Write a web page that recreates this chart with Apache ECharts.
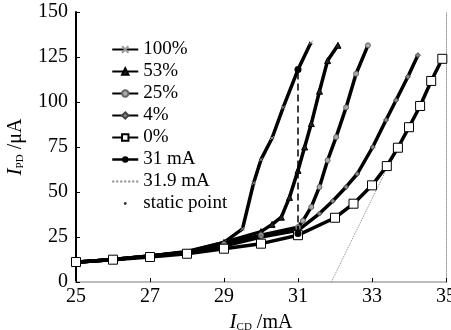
<!DOCTYPE html>
<html>
<head>
<meta charset="utf-8">
<script src="https://cdn.jsdelivr.net/npm/echarts@6/dist/echarts.min.js"></script>
<style>
  html, body { margin: 0; padding: 0; background: #fff; }
  #chart { width: 451px; height: 330px; }
</style>
</head>
<body>
<div id="chart"></div>
<script>
// data
const x100 = [25, 26, 27, 28, 29, 29.5, 29.8, 30, 30.3, 30.6, 31, 31.35];
const y100 = [11, 12.5, 14.5, 17, 22, 29.5, 55, 68, 80, 97, 118, 133];
const x53 = [25, 26, 27, 28, 29, 30, 30.3, 30.55, 30.77, 31, 31.18, 31.36, 31.58, 31.8, 32.08];
const y53 = [11, 12.5, 14.5, 16.5, 22, 28, 32, 36, 47, 62, 75, 88, 106, 123, 131.5];
const x25 = [25, 26, 27, 28, 29, 30, 31, 31.13, 31.36, 31.58, 31.8, 32.03, 32.3, 32.57, 32.89];
const y25 = [11, 12.5, 14.5, 16.5, 21, 26, 30.5, 34, 41.7, 52.8, 67.6, 80.5, 97, 115.7, 131.5];
const x4 = [25, 26, 27, 28, 29, 30, 31, 31.58, 31.94, 32.3, 32.6, 33.02, 33.38, 33.65, 33.97, 34.24];
const y4 = [11, 12.5, 14.5, 16.5, 20, 25, 28.7, 38, 45, 52.8, 60, 75, 90, 101, 114, 126];
const x0 = [25, 26, 27, 28, 29, 30, 31, 32, 32.5, 33, 33.4, 33.7, 34, 34.3, 34.6, 34.9];
const y0 = [11.1, 12.4, 13.9, 15.7, 18.5, 21.3, 26, 35.7, 43.5, 53.7, 64.4, 74.6, 86, 97.8, 111.7, 124];
const x31 = [31, 31];
const y31 = [27, 118];
const x319 = [31.9, 33.4];
const y319 = [0, 63];
const xStatic = [31, 31, 31, 31, 31];
const yStatic = [118, 62, 30.5, 28.7, 26];
const xTicks = [25, 27, 29, 31, 33, 35];
const yTicks = [0, 25, 50, 75, 100, 125, 150];

const zip = (xs, ys) => xs.map((x, i) => [x, ys[i]]);
const FONT = "'Liberation Serif', 'DejaVu Serif', serif";

const chart = echarts.init(document.getElementById("chart"), null, { renderer: "canvas" });

const curve = (name, xs, ys, symbol, size, color, border) => ({
  name: name,
  type: "line",
  data: zip(xs, ys),
  symbol: symbol,
  symbolSize: size,
  showSymbol: true,
  lineStyle: { color: "#000", width: 3.5 },
  itemStyle: { color: color, borderColor: border, borderWidth: 1 },
  z: 3
});

const nameStyle = {
  fontFamily: FONT, fontSize: 20, color: "#000",
  rich: {
    i: { fontFamily: FONT, fontStyle: "italic", fontSize: 21 },
    s: { fontFamily: FONT, fontSize: 11, verticalAlign: "bottom", padding: [10, 0, 0, 0] }
  }
};

chart.setOption({
  animation: false,
  backgroundColor: "#fff",
  grid: { left: 76, right: 5, top: 12, bottom: 48, containLabel: false, outerBoundsMode: "none" },
  legend: {
    orient: "vertical",
    left: 106,
    top: 35,
    itemWidth: 26,
    itemHeight: 8,
    itemGap: 3,
    textStyle: { fontFamily: FONT, fontSize: 19, color: "#000" },
    data: [
      "100%", "53%", "25%", "4%", "0%",
      { name: "31 mA", lineStyle: { type: "solid", width: 2.5 } },
      { name: "31.9 mA", itemStyle: { opacity: 0 } },
      { name: "static point", icon: "path://M0,0L0.01,0M100,100L100.01,100M32,50a18,18 0 1,0 36,0a18,18 0 1,0 -36,0" }
    ]
  },
  xAxis: [{
    type: "value",
    min: 25,
    max: 35,
    interval: 2,
    name: "{i|I}{s|CD} /mA",
    nameLocation: "middle",
    nameGap: 24,
    nameTextStyle: nameStyle,
    axisLine: { lineStyle: { color: "#000", width: 2 } },
    axisTick: { inside: true, length: 4, lineStyle: { color: "#000" } },
    axisLabel: { fontFamily: FONT, fontSize: 20, color: "#000", margin: 5, formatter: v => xTicks.includes(v) ? String(v) : "" },
    splitLine: { show: false }
  }, {
    type: "value", position: "top", min: 25, max: 35,
    axisLine: { show: true, lineStyle: { color: "#bbb", width: 2 } },
    axisTick: { show: false }, axisLabel: { show: false }, splitLine: { show: false }
  }],
  yAxis: [{
    type: "value",
    min: 0,
    max: 150,
    interval: 25,
    name: "{i|I}{s|PD} /μA",
    nameLocation: "middle",
    nameGap: 50,
    nameRotate: 90,
    nameTextStyle: nameStyle,
    axisLine: { show: true, lineStyle: { color: "#000", width: 2 } },
    axisTick: { show: true, inside: true, length: 4, lineStyle: { color: "#000" } },
    axisLabel: { fontFamily: FONT, fontSize: 20, color: "#000", margin: 8, formatter: v => yTicks.includes(v) ? String(v) : "" },
    splitLine: { show: false }
  }, {
    type: "value", position: "right", min: 0, max: 150,
    axisLine: { show: true, lineStyle: { color: "#999", width: 1, type: "dotted" } },
    axisTick: { show: false }, axisLabel: { show: false }, splitLine: { show: false }
  }],
  series: [
    curve("100%", x100, y100, "path://M0,0L10,10M10,0L0,10", 4, "#999", "#999"),
    curve("53%", x53, y53, "triangle", 6, "#222", "#000"),
    curve("25%", x25, y25, "circle", 5, "#aaa", "#666"),
    curve("4%", x4, y4, "diamond", 5, "#888", "#444"),
    curve("0%", x0, y0, "rect", 9, "#fff", "#000"),
    {
      name: "31 mA",
      type: "line",
      data: zip(x31, y31),
      symbol: "circle",
      symbolSize: 7,
      lineStyle: { color: "#000", width: 1.5, type: [7, 4] },
      itemStyle: { color: "#000" },
      z: 4
    },
    {
      name: "31.9 mA",
      type: "line",
      data: zip(x319, y319),
      symbol: "none",
      lineStyle: { color: "#888", width: 1, type: "dotted" },
      itemStyle: { color: "#888" },
      z: 2
    },
    {
      name: "static point",
      type: "scatter",
      data: zip(xStatic, yStatic),
      symbol: "circle",
      symbolSize: 3,
      itemStyle: { color: "#000" },
      z: 5
    }
  ]
});
</script>
</body>
</html>
